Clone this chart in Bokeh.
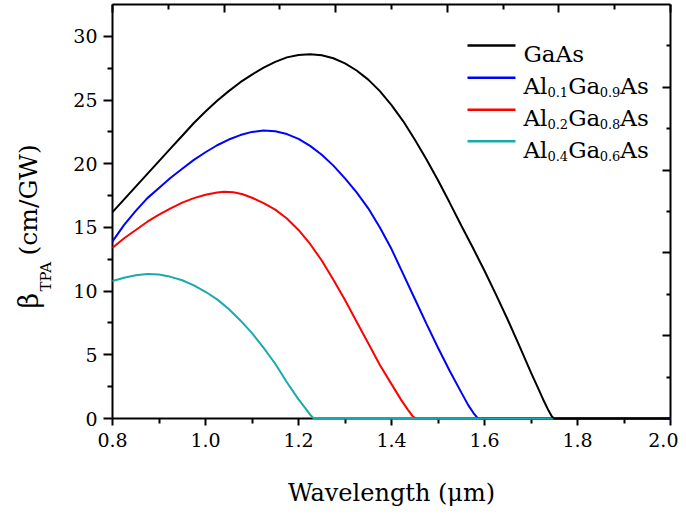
import math
from bokeh.plotting import figure
from bokeh.layouts import row
from bokeh.models import LinearAxis, FixedTicker, Range1d, Label, BoxAnnotation, CustomLabelingPolicy
from bokeh.embed import file_html
from bokeh.resources import INLINE

# ---------------- data ----------------
wl_gaas = [0.800, 0.825, 0.850, 0.875, 0.900, 0.925, 0.950, 0.975, 1.000, 1.025, 1.050, 1.075,
           1.100, 1.125, 1.150, 1.175, 1.200, 1.225, 1.250, 1.275, 1.300, 1.325, 1.350, 1.375,
           1.400, 1.425, 1.450, 1.475, 1.500, 1.525, 1.550, 1.575, 1.600, 1.625, 1.650, 1.675,
           1.700, 1.715, 1.728, 1.738, 1.745, 1.750, 1.800, 1.900, 2.000]
beta_gaas = [16.2, 17.2, 18.2, 19.2, 20.2, 21.2, 22.2, 23.2, 24.1, 24.95, 25.7, 26.4,
             27.0, 27.55, 28.0, 28.35, 28.54, 28.6, 28.52, 28.28, 27.88, 27.32, 26.6, 25.7,
             24.6, 23.35, 21.9, 20.35, 18.7, 16.95, 15.15, 13.4, 11.6, 9.7, 7.75, 5.7,
             3.6, 2.4, 1.35, 0.6, 0.15, 0.0, 0.0, 0.0, 0.0]

wl_al01 = [0.800, 0.825, 0.850, 0.875, 0.900, 0.925, 0.950, 0.975, 1.000, 1.025, 1.050, 1.075,
           1.100, 1.125, 1.150, 1.175, 1.200, 1.225, 1.250, 1.275, 1.300, 1.325, 1.350, 1.375,
           1.400, 1.425, 1.450, 1.475, 1.500, 1.525, 1.550, 1.565, 1.576, 1.583, 1.588, 1.700,
           1.800, 1.900, 2.000]
beta_al01 = [13.9, 15.2, 16.3, 17.3, 18.1, 18.9, 19.6, 20.3, 20.9, 21.45, 21.9, 22.25,
             22.5, 22.6, 22.55, 22.33, 21.95, 21.4, 20.7, 19.85, 18.85, 17.75, 16.5, 15.0,
             13.3, 11.35, 9.4, 7.45, 5.55, 3.75, 2.05, 1.05, 0.45, 0.12, 0.0, 0.0,
             0.0, 0.0, 0.0]

wl_al02 = [0.800, 0.825, 0.850, 0.875, 0.900, 0.925, 0.950, 0.975, 1.000, 1.025, 1.040, 1.060,
           1.080, 1.100, 1.125, 1.150, 1.175, 1.200, 1.225, 1.250, 1.275, 1.300, 1.325, 1.350,
           1.375, 1.400, 1.420, 1.435, 1.445, 1.452, 1.600, 1.800, 2.000]
beta_al02 = [13.4, 14.15, 14.8, 15.45, 16.0, 16.5, 16.95, 17.3, 17.57, 17.74, 17.8, 17.76,
             17.6, 17.33, 16.9, 16.4, 15.7, 14.8, 13.7, 12.4, 10.9, 9.3, 7.6, 5.9,
             4.2, 2.7, 1.5, 0.7, 0.2, 0.0, 0.0, 0.0, 0.0]

wl_al04 = [0.800, 0.825, 0.850, 0.875, 0.900, 0.925, 0.950, 0.975, 1.000, 1.025, 1.050, 1.075,
           1.100, 1.125, 1.150, 1.175, 1.200, 1.215, 1.225, 1.233, 1.400, 1.600, 1.750]
beta_al04 = [10.8, 11.05, 11.25, 11.35, 11.3, 11.12, 10.85, 10.45, 9.95, 9.35, 8.6, 7.7,
             6.7, 5.55, 4.3, 2.85, 1.5, 0.8, 0.3, 0.0, 0.0, 0.0, 0.0]

series_colors = ["#000000", "#0000FF", "#FF0000", "#1AAAAA"]
# legend text split into (text, is_subscript) pieces
legend_pieces = [
    [("GaAs", False)],
    [("Al", False), ("0.1", True), ("Ga", False), ("0.9", True), ("As", False)],
    [("Al", False), ("0.2", True), ("Ga", False), ("0.8", True), ("As", False)],
    [("Al", False), ("0.4", True), ("Ga", False), ("0.6", True), ("As", False)],
]
ylabel_pieces = [("β", False), ("TPA", True), ("(cm/GW)", False)]
xlabel_text = "Wavelength (μm)"

x_major = [0.8, 1.0, 1.2, 1.4, 1.6, 1.8, 2.0]
x_tick_labels = ["0.8", "1.0", "1.2", "1.4", "1.6", "1.8", "2.0"]
x_minor = [0.9, 1.1, 1.3, 1.5, 1.7, 1.9]
y_major = [0, 5, 10, 15, 20, 25, 30]
y_minor = [2.5, 7.5, 12.5, 17.5, 22.5, 27.5]
top_major = [0.8, 1.04, 1.28, 1.52, 1.76, 2.0]
top_minor = [0.92, 1.16, 1.40, 1.64, 1.88]
right_major = [0, 6.5, 13.0, 19.5, 26.0]
right_minor = [3.25, 9.75, 16.25, 22.75, 29.25]

FONT = "DejaVu Serif"
LAB_W = 64          # width of the strip that carries the rotated y label
TOTAL_H = 514

# ---------------- main figure ----------------
p = figure(frame_width=558, frame_height=414,
           x_range=Range1d(0.8, 2.0), y_range=Range1d(0, 32.5),
           output_backend="svg", toolbar_location=None,
           min_border_left=112 - LAB_W, min_border_right=8, min_border_top=4,
           min_border_bottom=TOTAL_H - 418,
           x_axis_label=xlabel_text)
p.grid.visible = False
p.outline_line_color = None
p.background_fill_color = "white"
p.border_fill_color = "white"

NO_LABELS = CustomLabelingPolicy(code="""
for (const i of Array.from(indices)) { indices.unset(i) }
return indices
""")

def style_axis(ax, tick_out, minor_out, tick_in, minor_in, labels=True):
    ax.axis_line_width = 2
    ax.axis_line_color = "black"
    ax.major_tick_line_width = 2
    ax.minor_tick_line_width = 2
    ax.major_tick_line_color = "black"
    ax.minor_tick_line_color = "black"
    ax.major_tick_out = tick_out
    ax.minor_tick_out = minor_out
    ax.major_tick_in = tick_in
    ax.minor_tick_in = minor_in
    if labels:
        ax.major_label_text_font = FONT
        ax.major_label_text_font_size = "19px"
        ax.major_label_text_color = "black"
    else:
        ax.major_label_policy = NO_LABELS
        ax.major_label_text_font_size = "0px"
        ax.major_label_standoff = 0

xa = p.xaxis[0]
xa.ticker = FixedTicker(ticks=x_major, minor_ticks=x_minor)
xa.major_label_overrides = dict(zip(x_major, x_tick_labels))
style_axis(xa, 7, 5, 0, 0)
xa.major_label_standoff = 7
xa.axis_label_text_font = FONT
xa.axis_label_text_font_size = "24px"
xa.axis_label_text_font_style = "normal"
xa.axis_label_text_color = "black"
xa.axis_label_standoff = 29

ya = p.yaxis[0]
ya.ticker = FixedTicker(ticks=y_major, minor_ticks=y_minor)
style_axis(ya, 9, 5, 0, 0)
ya.major_label_standoff = 6

top = LinearAxis(ticker=FixedTicker(ticks=top_major, minor_ticks=top_minor))
style_axis(top, 0, 0, 8, 5, labels=False)
p.add_layout(top, "above")
right = LinearAxis(ticker=FixedTicker(ticks=right_major, minor_ticks=right_minor))
style_axis(right, 0, 0, 8, 4, labels=False)
p.add_layout(right, "right")

# ---------------- curves ----------------
data = [(wl_gaas, beta_gaas), (wl_al01, beta_al01), (wl_al02, beta_al02), (wl_al04, beta_al04)]
for i in [2, 1, 3, 0]:
    xs, ys = data[i]
    r = p.line(xs, ys, line_color=series_colors[i], line_width=2)
    r.level = "annotation"

# ---------------- legend ----------------
W = {"A": 0.722, "l": 0.320, "G": 0.775, "a": 0.596, "s": 0.513, ".": 0.318}
MAIN, SUB = 23, 13
row_y = [373, 340.7, 308.7, 277.3]          # px above the x axis
sw_left, sw_right, txt_left = 355, 403, 411  # px right of the y axis
for k in range(4):
    c = series_colors[k]
    p.add_layout(BoxAnnotation(left=sw_left, right=sw_right, bottom=row_y[k] - 1.2, top=row_y[k] + 1.2,
                               left_units="screen", right_units="screen",
                               bottom_units="screen", top_units="screen",
                               fill_color=c, fill_alpha=1, line_color=None, level="overlay"))
    xoff = 0.0
    base = row_y[k] - 8.5
    for txt, sub in legend_pieces[k]:
        size = SUB if sub else MAIN
        p.add_layout(Label(x=txt_left + xoff, y=base - (6 if sub else 0),
                           x_units="screen", y_units="screen", text=txt,
                           text_font=FONT, text_font_size=f"{size}px", text_color="black",
                           text_align="left", text_baseline="alphabetic"))
        xoff += sum(W.get(ch, 0.636) for ch in txt) * size

# ---------------- y label strip ----------------
lab = figure(width=LAB_W, height=TOTAL_H, x_range=Range1d(0, 1), y_range=Range1d(0, 1),
             output_backend="svg", toolbar_location=None, x_axis_type=None, y_axis_type=None,
             min_border=0, min_border_left=0, min_border_right=0, min_border_top=0, min_border_bottom=0)
lab.grid.visible = False
lab.outline_line_color = None
lab.border_fill_color = "white"
ang = math.pi / 2
ypos = [110, 127, 163]      # px above the x axis where each piece starts
xbase = [28, 45, 28]        # baseline position within the strip
sizes = ["27px", "15px", "25px"]
for (txt, sub), yy, xx, sz in zip(ylabel_pieces, ypos, xbase, sizes):
    lab.add_layout(Label(x=xx, y=yy, x_units="screen", y_units="screen", text=txt, angle=ang,
                         text_font=FONT, text_font_size=sz, text_color="black",
                         text_align="left", text_baseline="alphabetic"))

layout = row(lab, p)
open("out.html", "w").write(file_html(layout, INLINE))
